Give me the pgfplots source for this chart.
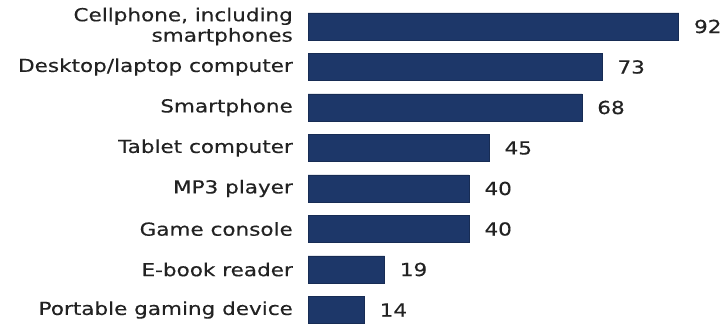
\documentclass[border=0pt]{standalone}
\usepackage{pgfplots}
\pgfplotsset{compat=1.18}
\usepackage{fontspec}
\setmainfont{DejaVu Sans}[FakeStretch=1.2, FakeBold=0.4]
\definecolor{barnavy}{HTML}{1D3769}
\definecolor{txt}{HTML}{222222}
\begin{document}
\begin{tikzpicture}
\begin{axis}[
  x=4.03bp, y=40.5bp, y dir=reverse,
  xmin=0, xmax=100, ymin=-0.5, ymax=7.5,
  axis line style={draw=none},
  tick style={draw=none},
  xtick=\empty,
  xbar, bar width=27bp,
  bar shift=0pt,
  ytick={0,...,7},
  yticklabels={{Cellphone, including\\smartphones},Desktop/laptop computer,Smartphone,Tablet computer,MP3 player,Game console,E-book reader,Portable gaming device},
  yticklabel style={align=right, font=\fontsize{18}{20.5}\selectfont, text=txt, inner sep=0pt, xshift=-15bp},
  major tick length=0pt,
  clip=false,
  /pgf/number format/assume math mode=true,
  nodes near coords,
  nodes near coords style={anchor=west, xshift=15bp, font=\fontsize{18}{20}\selectfont, text=txt, inner sep=0pt},
]
\addplot[fill=barnavy, draw=barnavy!80!black, line width=0.6pt] coordinates {(92,0) (73,1) (68,2) (45,3) (40,4) (40,5) (19,6) (14,7)};
\coordinate (tl) at (axis cs:-76.43,-0.654);
\coordinate (br) at (axis cs:103.72,7.37);
\end{axis}
\pgfresetboundingbox
\path (tl) rectangle (br);
\end{tikzpicture}
\end{document}
